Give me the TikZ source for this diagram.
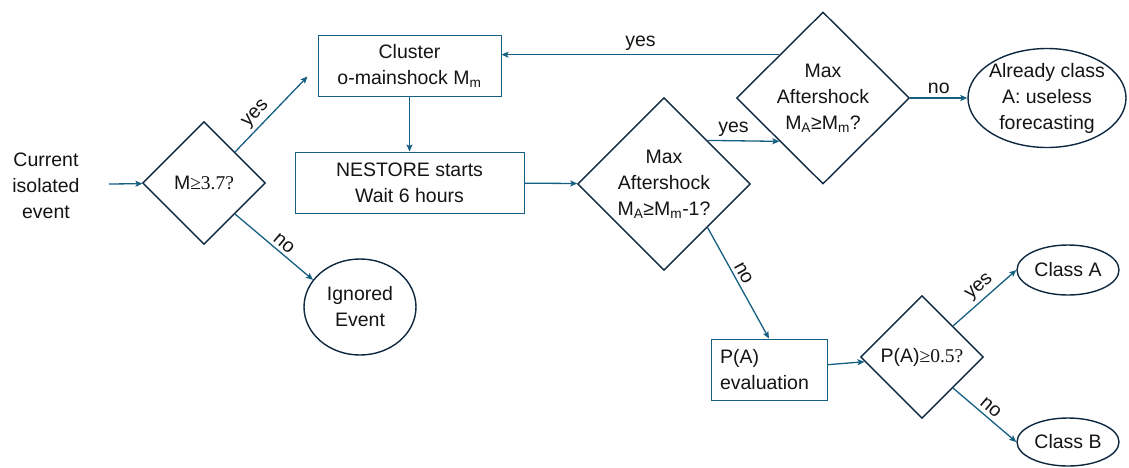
\documentclass[tikz,border=0pt]{standalone}
\usepackage{fontspec}
\setmainfont{Liberation Sans}
\newfontfamily\serifnum{Liberation Serif}
\usetikzlibrary{shapes.geometric,arrows.meta}
\definecolor{teal_blue}{RGB}{21,96,130}
\definecolor{dark_navy}{RGB}{14,40,65}
\definecolor{ink}{RGB}{20,20,20}

\begin{document}
\begin{tikzpicture}[x=1pt,y=-1pt,font=\fontsize{19.5}{26}\selectfont,text=ink,
	box/.style={rectangle,draw=teal_blue,line width=1pt,minimum height=61pt,align=center,inner sep=0pt},
	check/.style={diamond,draw=dark_navy,line width=1.4pt,align=center,inner sep=0pt},
	terminal/.style={ellipse,draw=dark_navy,line width=1.4pt,align=center,inner sep=0pt},
	flow/.style={draw=teal_blue,line width=1.3pt,-{Stealth[length=7pt,width=6pt,inset=1.5pt]}}]
	\useasboundingbox (0,0) rectangle (1129,467);
	\node[align=center] (event) at (46,186) {Current\\isolated\\event};
	\coordinate (start) at (109,184);
	\node[check,minimum width=123pt,minimum height=123pt] (d1) at (204,183) {M{\serifnum ≥3.7?}};
	\node[box,minimum width=183pt] (cluster) at (409.5,65.5) {Cluster\\o-mainshock M\textsubscript{m}};
	\node[box,minimum width=229pt] (nestore) at (409.5,182.5) {NESTORE starts\\Wait 6 hours};
	\node[terminal,minimum width=112pt,minimum height=96pt] (ignored) at (360,307) {Ignored\\Event};
	\node[check,minimum width=173pt,minimum height=173pt] (d2) at (664,184) {Max\\Aftershock\\M\textsubscript{A}≥M\textsubscript{m}-1?};
	\node[check,minimum width=173pt,minimum height=172pt] (d3) at (823,98) {Max\\Aftershock\\M\textsubscript{A}≥M\textsubscript{m}?};
	\node[terminal,minimum width=158pt,minimum height=99pt,label={[align=center]center:{Already class\\A: useless\\forecasting}}] (already) at (1047,98) {};
	\node[box,minimum width=116pt,text width=98pt,align=left] (pa) at (769,369.5) {P(A)\\evaluation};
	\node[check,minimum width=123pt,minimum height=123pt] (d4) at (922,357) {P(A){\serifnum ≥0.5?}};
	\node[terminal,minimum width=102pt,minimum height=50pt] (classa) at (1068,270) {Class A};
	\node[terminal,minimum width=102pt,minimum height=48pt] (classb) at (1068,442) {Class B};

	\foreach \x/\y in {start/d1,cluster/nestore,nestore/d2,pa/d4}
		\draw[flow] (\x) -- (\y);
	\draw[flow] (d1.north east) -- node[sloped,above,pos=.4] {yes} ([shift={(-10,11)}]cluster.west);
	\draw[flow] (d1.south east) -- node[sloped,above,pos=.55] {no} (ignored.150);
	\draw[flow] (d2.north east) -- node[above,pos=.36] {yes} (d3.south west);
	\draw[flow] (d3.north west) -- node[above] {yes} (d3.north west -| cluster.east);
	\draw[flow] (d3) -- node[above] {no} (already);
	\draw[flow] (d2.south east) -- node[sloped,above,pos=.45] {no} (pa.north);
	\draw[flow] (d4.north east) -- node[sloped,above,pos=.54] {yes} (classa.west);
	\draw[flow] (d4.south east) -- node[sloped,above] {no} (classb.west);
\end{tikzpicture}
\end{document}
